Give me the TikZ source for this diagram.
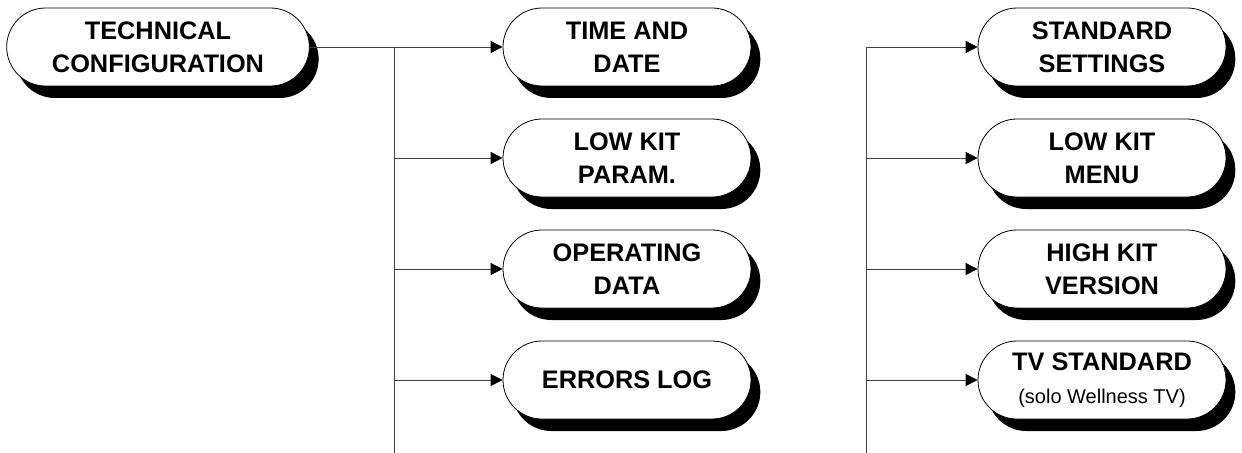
\documentclass[tikz,border=0pt]{standalone}
\usepackage{fontspec}
\setmainfont{Liberation Sans}
\usetikzlibrary{arrows.meta,shapes.misc,shadows}

\begin{document}
\begin{tikzpicture}[x=0.75pt,y=-0.75pt,
    menu/.style={rounded rectangle, draw, line width=0.6pt, fill=white,
      minimum width=186pt, minimum height=58.5pt, inner sep=0pt, align=center,
      font=\fontsize{19}{25}\selectfont\bfseries,
      drop shadow={shadow xshift=7pt, shadow yshift=-9pt, opacity=1, fill=black}},
    link/.style={draw=black!75, line width=0.6pt},
    tip/.style={-{Triangle[length=9pt,width=9pt,color=black]}}]
    \useasboundingbox (0,0) rectangle (1242,453);

    % menu boxes
    \node[menu, minimum width=227pt] (techconf) at (158,47) {TECHNICAL\\CONFIGURATION};
    \node[menu] (timedate) at (627,47) {TIME AND\\DATE};
    \node[menu] (lowparam) at (627,158) {LOW KIT\\PARAM.};
    \node[menu] (opdata) at (627,269) {OPERATING\\DATA};
    \node[menu] (errlog) at (627,380) {ERRORS LOG};
    \node[menu] (stdset) at (1102,47) {STANDARD\\SETTINGS};
    \node[menu] (lowmenu) at (1102,158) {LOW KIT\\MENU};
    \node[menu] (highver) at (1102,269) {HIGH KIT\\VERSION};
    \node[menu] (tvstd) at (1102,380) {TV STANDARD\\{\fontsize{15}{18}\selectfont\mdseries (solo Wellness TV)}};

    % bus lines
    \coordinate (busA) at (394,47);
    \coordinate (busAend) at (394,453);
    \coordinate (busB) at (866,47);
    \coordinate (busBend) at (866,453);

    \draw[link] (techconf.east) -- (busA);
    \draw[link] (busA) -- (busAend);
    \draw[link] (busB) -- (busBend);

    % branches
    \foreach \n in {timedate,lowparam,opdata,errlog}
        \draw[link,tip] (busA |- \n.west) -- (\n.west);
    \foreach \n in {stdset,lowmenu,highver,tvstd}
        \draw[link,tip] (busB |- \n.west) -- (\n.west);

\end{tikzpicture}
\end{document}
